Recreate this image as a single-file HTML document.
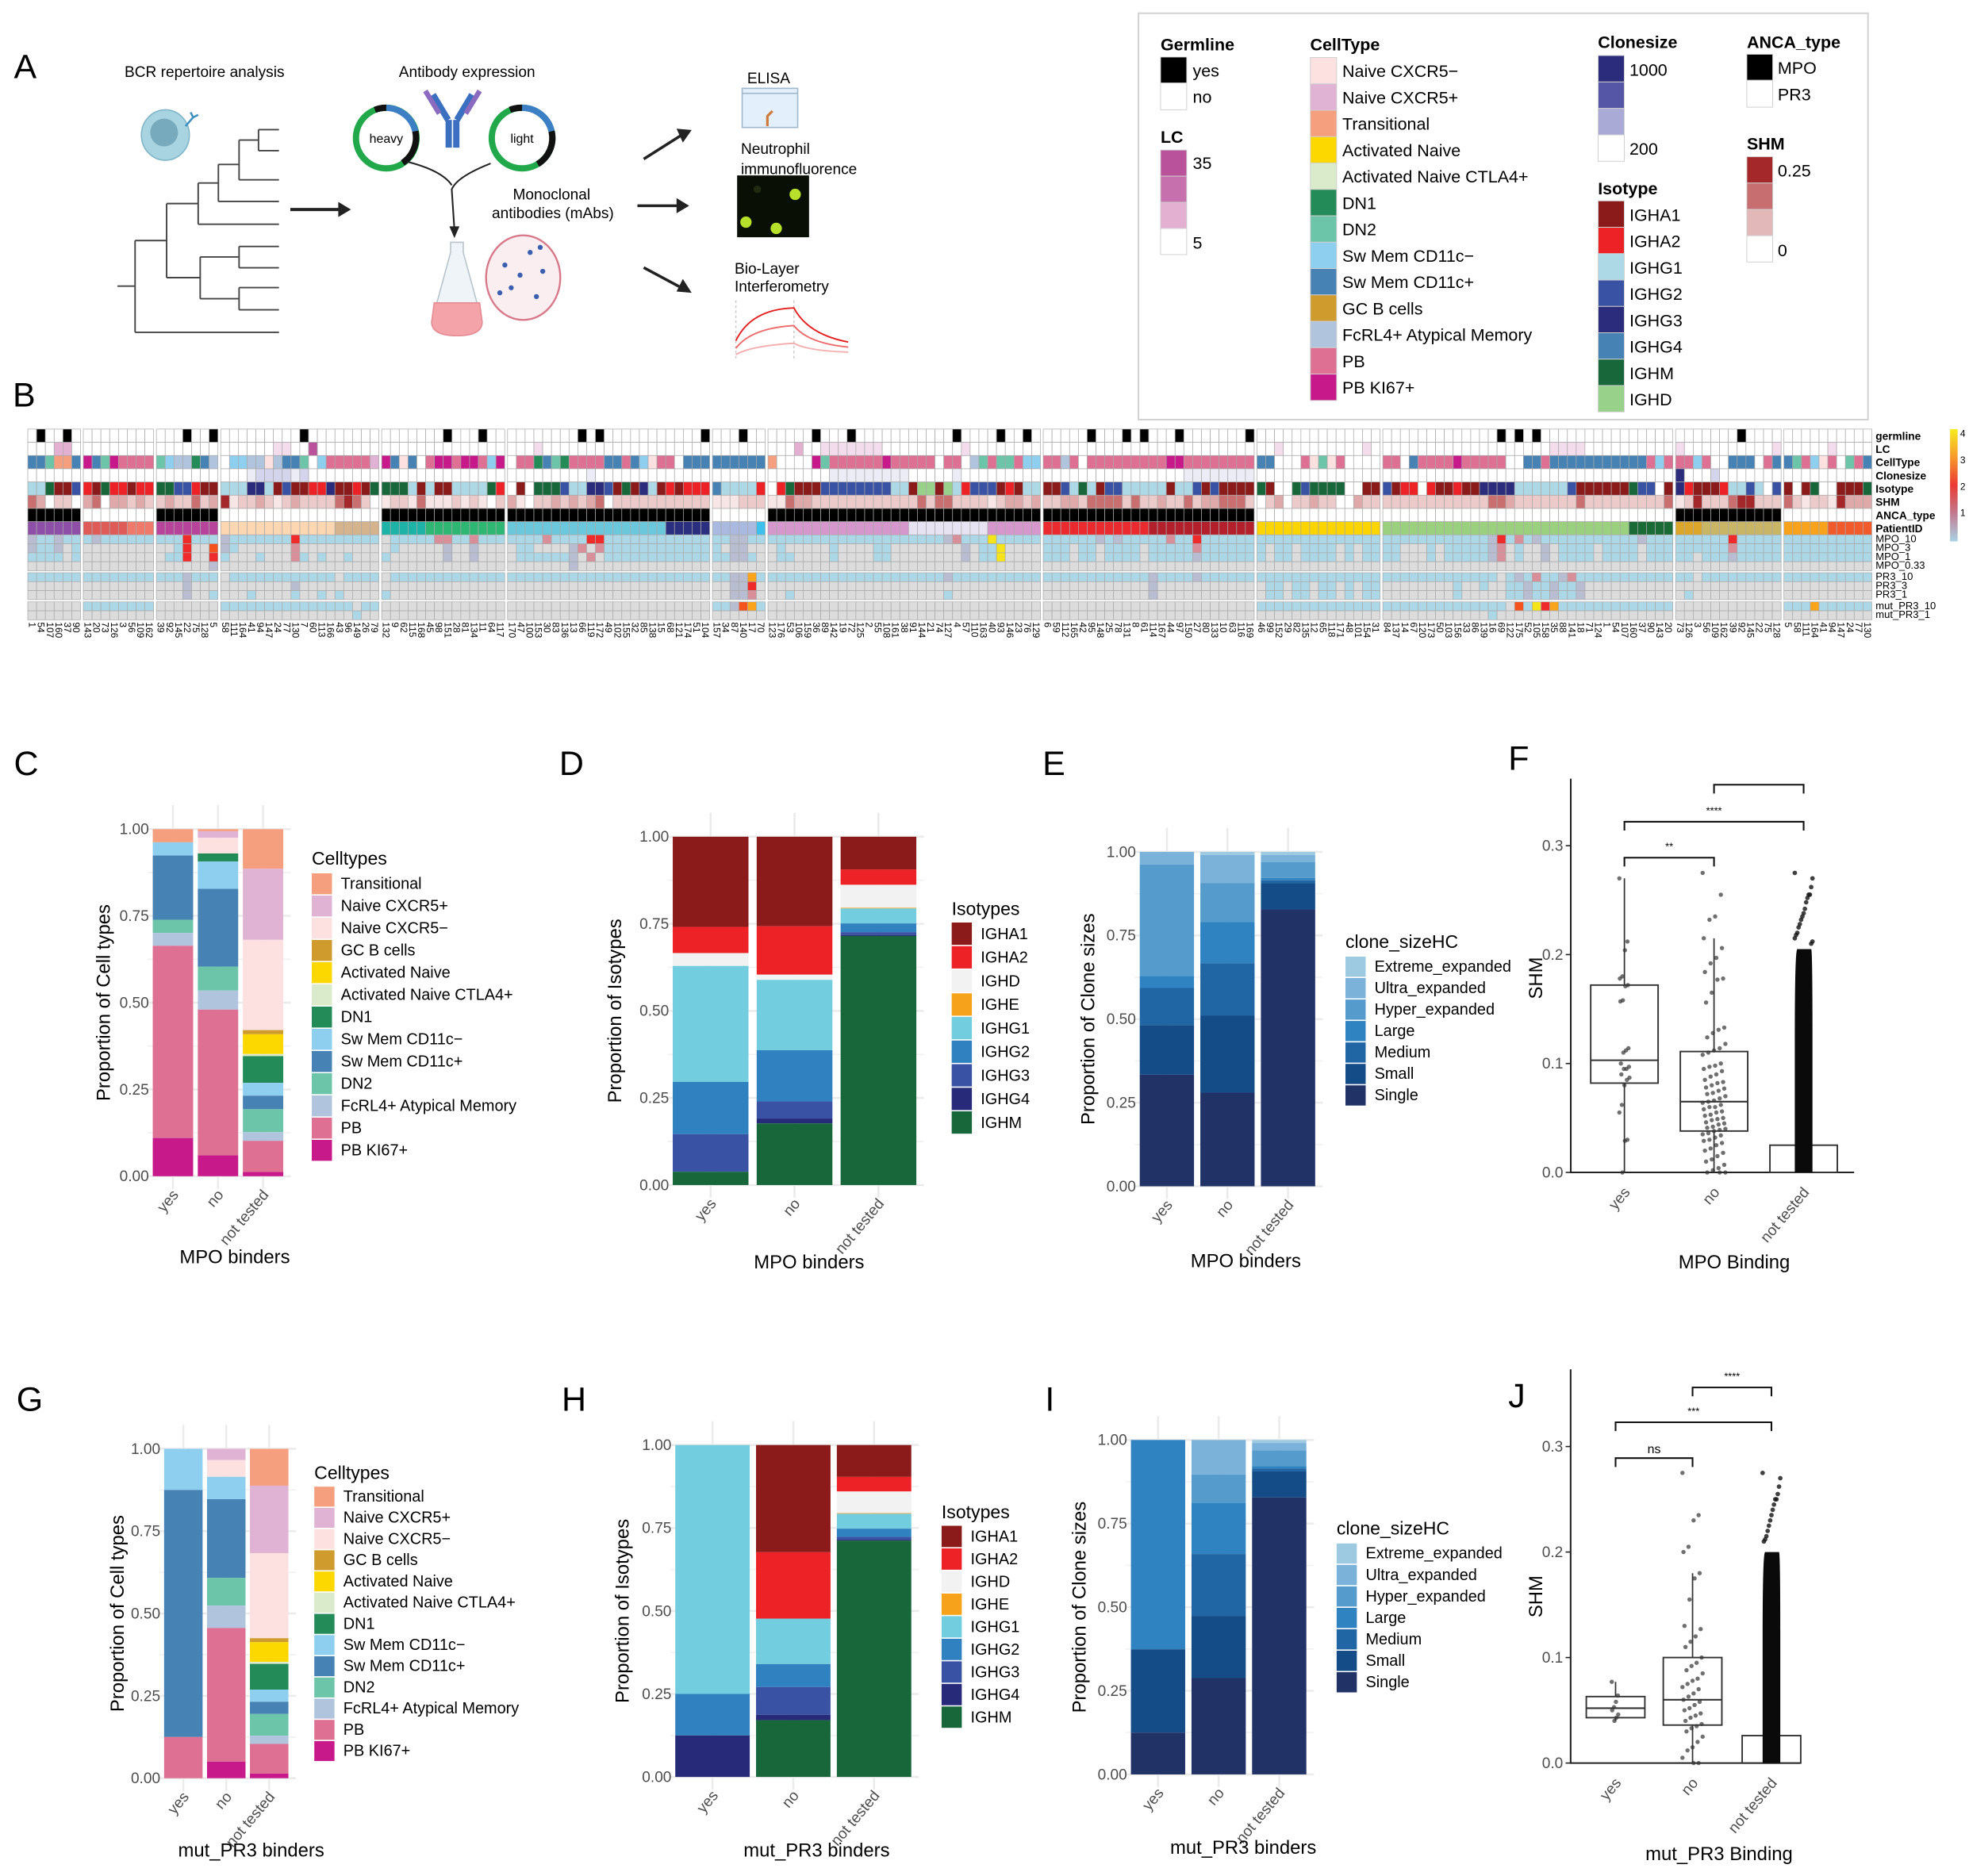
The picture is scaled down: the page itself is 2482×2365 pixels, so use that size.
<!DOCTYPE html>
<html><head><meta charset="utf-8">
<style>
html,body{margin:0;padding:0;background:#fff;}
svg{display:block;font-family:"Liberation Sans",Arial,sans-serif;}
</style></head>
<body>
<svg id="fig" xmlns="http://www.w3.org/2000/svg" viewBox="0 0 1560 1486.5" width="2482" height="2365">
<rect x="0" y="0" width="1560" height="1486.5" fill="#fff"/>
<!-- Panel A -->
<g>
<text x="11" y="62" font-size="27">A</text>
<text x="162" y="61" font-size="12" text-anchor="middle">BCR repertoire analysis</text>
<text x="370" y="61" font-size="12" text-anchor="middle">Antibody expression</text>
<g>
<ellipse cx="131" cy="107" rx="19" ry="20" fill="#a8d3e0" stroke="#7fb6c8"/>
<ellipse cx="130" cy="105" rx="11" ry="11" fill="#78aabd"/>
<path d="M147 100 L153 93 M153 93 L151 89 M153 93 L157 91" stroke="#3d8fc0" stroke-width="1.6" fill="none"/>
</g>
<g stroke="#444" stroke-width="1.2" fill="none">
<path d="M93 226.7 H107 M107 190.6 V263.3 M107 190.6 H132 M107 263.3 H221"/>
<path d="M132 161.3 V220 M132 161.3 H157 M132 220 H158.6"/>
<path d="M157 145 V177.7 M157 145 H173 M157 177.7 H221"/>
<path d="M173 130.3 V159.6 M173 130.3 H189.4 M173 159.6 H221"/>
<path d="M189.4 111 V142.5 M189.4 111 H204.8 M189.4 142.5 H221"/>
<path d="M204.8 102.7 V119.4 M204.8 102.7 H221 M204.8 119.4 H221"/>
<path d="M158.6 203.6 V236.7 M158.6 203.6 H189.4 M158.6 236.7 H189.4"/>
<path d="M189.4 195.3 V212.2 M189.4 195.3 H221 M189.4 212.2 H221"/>
<path d="M189.4 227.9 V245.5 M189.4 227.9 H221 M189.4 245.5 H221"/>
</g>
<g>
<line x1="230" y1="166" x2="270" y2="166" stroke="#222" stroke-width="2.5"/>
<polygon points="268,160 278,166 268,172" fill="#222"/>
</g>
<g>
<circle cx="306" cy="109.4" r="24" fill="none" stroke="#20a84a" stroke-width="5"/>
<path d="M306 85.4 A24 24 0 0 1 329 104" fill="none" stroke="#3d7fc4" stroke-width="5"/>
<path d="M329 104 A24 24 0 0 1 319 129" fill="none" stroke="#111" stroke-width="5"/>
<path d="M297 87 A24 24 0 0 1 306 85.4" fill="none" stroke="#111" stroke-width="5"/>
<text x="306" y="113" font-size="10" text-anchor="middle">heavy</text>
</g>
<g>
<circle cx="413.6" cy="109.4" r="24" fill="none" stroke="#20a84a" stroke-width="5"/>
<path d="M413.6 85.4 A24 24 0 0 1 437 104" fill="none" stroke="#3d7fc4" stroke-width="5"/>
<path d="M437 104 A24 24 0 0 1 426 130" fill="none" stroke="#111" stroke-width="5"/>
<path d="M404 87 A24 24 0 0 1 413.6 85.4" fill="none" stroke="#111" stroke-width="5"/>
<text x="413.6" y="113" font-size="10" text-anchor="middle">light</text>
</g>
<g>
<rect x="353" y="95" width="5" height="22" fill="#3b6fc0"/><rect x="359" y="95" width="5" height="22" fill="#3b6fc0"/>
<path d="M355 95 L343 75" stroke="#3b6fc0" stroke-width="5"/><path d="M362 95 L374 75" stroke="#3b6fc0" stroke-width="5"/>
<path d="M348 90 L337 72" stroke="#8a6bbf" stroke-width="4"/><path d="M369 90 L380 72" stroke="#8a6bbf" stroke-width="4"/>
</g>
<g stroke="#222" stroke-width="1.3" fill="none">
<path d="M322 128 Q350 135 357.9 146.7"/><path d="M388.7 129.5 Q362 140 357.9 150 L360 182"/>
<polygon points="357,180 360,187 363,180" fill="#222"/>
</g>
<text x="437" y="158" font-size="12" text-anchor="middle">Monoclonal</text>
<text x="438" y="173" font-size="12" text-anchor="middle">antibodies (mAbs)</text>
<g>
<path d="M357 192 H367 V200 L382 255 Q382 266 362 266 Q342 266 342 255 L357 200 Z" fill="#eef4f7" stroke="#b8c4cc"/>
<path d="M344 240 H380 L382 255 Q382 266 362 266 Q342 266 342 255 Z" fill="#f4a3a8" stroke="#e58c92"/>
<ellipse cx="414.5" cy="220" rx="29.4" ry="33.5" fill="#fbeef0" stroke="#d8798a" stroke-width="1.5"/>
<g fill="#3b5fb0"><circle cx="400" cy="210" r="2"/><circle cx="420" cy="200" r="2"/><circle cx="430" cy="215" r="2"/><circle cx="405" cy="228" r="2"/><circle cx="425" cy="235" r="2"/><circle cx="412" cy="218" r="2"/><circle cx="396" cy="232" r="2"/><circle cx="428" cy="196" r="2"/></g>
</g>
<g stroke="#222" stroke-width="2.2">
<line x1="510" y1="126" x2="540" y2="107"/><polygon points="536,102 548,103 541,113" fill="#222" stroke="none"/>
<line x1="505" y1="163" x2="538" y2="163"/><polygon points="536,157 546,163 536,169" fill="#222" stroke="none"/>
<line x1="510" y1="212" x2="538" y2="227"/><polygon points="541,221 548,232 536,231" fill="#222" stroke="none"/>
</g>
<text x="592" y="66" font-size="12">ELISA</text>
<g>
<rect x="588" y="70" width="44" height="31" fill="#e3f0fb" stroke="#9fb8cc"/><line x1="588" y1="74" x2="632" y2="74" stroke="#9fb8cc"/>
<path d="M608 100 V92 L612 88" stroke="#d07a3a" stroke-width="2" fill="none"/>
</g>
<text x="587" y="122" font-size="12">Neutrophil</text>
<text x="587" y="138" font-size="12">immunofluorence</text>
<g>
<rect x="584" y="139" width="57" height="49" fill="#0a0f05"/>
<circle cx="630" cy="154" r="4.5" fill="#b7e02a"/><circle cx="591" cy="176" r="4.5" fill="#b7e02a"/><circle cx="615" cy="181" r="4.5" fill="#b7e02a"/><circle cx="600" cy="150" r="3" fill="#1f2a10"/>
</g>
<text x="582" y="217" font-size="12">Bio-Layer</text>
<text x="582" y="231" font-size="12">Interferometry</text>
<g fill="none">
<line x1="583" y1="238" x2="583" y2="285" stroke="#ccc" stroke-dasharray="2,2"/>
<line x1="629" y1="238" x2="629" y2="285" stroke="#ccc" stroke-dasharray="2,2"/>
<path d="M583 270 Q595 245 629 244 Q640 265 672 271" stroke="#e32020" stroke-width="1.2"/>
<path d="M583 276 Q595 260 629 258 Q640 272 672 275" stroke="#ee6a6a" stroke-width="1.2"/>
<path d="M583 281 Q595 274 629 272 Q640 278 672 279" stroke="#f4b0b0" stroke-width="1.2"/>
</g>
</g>
<!-- Legend box -->
<g id="annot-legend">
<rect x="902" y="10.5" width="578" height="322" fill="none" stroke="#d0d0d0" stroke-width="1.2"/>
</g>
<text x="10" y="322" font-size="27">B</text>
<g id="heatmap"></g>
<g id="panels"></g>
</svg>
<script>
// ---------------- Heatmap data ----------------
const hmGroups = [6,8,7,18,14,23,6,31,24,14,33,12,10];
const hmAnca = [1,0,1,0,1,1,0,1,1,0,0,1,0];
const hmGermline = "010010|00000000|0001001|000000000100000000|00000001000100|00000000101000000000001|000100|0000010001000000000001000010010|000001000101000100000001|00000000000000|000000000000010101000000000000000|000000010000|0000000000";
const hmLC = "000220|00000000|0000000|000000110030000000|00000000000000|00010000000000000000000|000000|0002001111111000000000100000000|000000000000000000000000|00100000000010|000000000000000000011110000000000|100000000001|0000010000";
const hmCellType = "SSettS|kSekpppp|esffdSf|wssffafSSewspppppb|kSaSwpkkpkkpsk|wppdSedppppSSpSsappwSSS|SSSSSS|twwwwkeppppppkpppppwppwfepeepss|ppfpwpppppppppkkpppppppp|SSwwwpaeapwwww|ppwSppppkpppppwwSSpSSSSSSSSSSSpsp|ppspwwSSSwpS|SepsapwepS";
const hmClone = "000000|00000000|0000000|000122221200000000|00000000000000|00000000010000000000000|000000|0000000111111111000001000000000|000000000000000011111111|00000000000000|000000000000000000000000000000000|900020000000|0000000000";
const hmIsotype = "11MAA2|BAMBBABB|MM22BAA|111331A2AABB3AABAM|MMM1A1AA1111MB|wAwMMM211332AMA31ABABBB|41111B|wBMAAA2222222211ADDAD1B222ABA11|AA21M1A2211111A112A2AAAA|MAwwM2MMMMwwAA|2ABBwBAABAA33331111112AAAAAAM22wA|3BAAAB1121w2|AwAMwwAAAM";
const hmSHM = "430220|34033232|2322423|512232123222245420|12214111212102|31022323234022222222222|111222|1143322222222222242442222123323|223324444242232242334442|02302232200322|222222222222443222222242222222224|125222455222|4212215333";
const hmPatient = "aaaaaa|bbbbbxxx|ccccccc|dddddddddddddeeeee|fffffggggggggg|hhhhhhhhhhhhhhhhhhiiiii|jjjjjk|llllllllllllllllmmmmmmmmmllllll|nnnnnnnnnnnnoooooooooooo|pppppppppppppp|qqqqqqqqqqqqqqqqqqqqqqqqqqqqrrrrr|sssttttttttt|uuuuuvvvvv";
const hmMPO10 = "811811|18111111|1114111|811111114111111111|01111133113111|11113111144111111111111|118811|1111111111111111111183111711111|111111818111113114111111|11111111111111|111111111111841318111111111118111|111111411111|1111111111";
const hmMPO3 = "811801|00000000|0014005|810000003000000000|01000008008000|01100008303111111111111|108800|0100000100001100000000801170000|111011011110111113111111|10110111101011|110001011111830100801111011110111|111111311111|1111111111";
const hmMPO1 = "111101|00000000|0114004|100010003101001000|10000008008000|01111118030111111111111|118810|0110000100001100000000801170000|111011011110111118111111|10110111101011|110001011111830100801111011110111|110111811111|1111111111";
const hmMPO033 = "0|0|0000008|0|0|00000008|0|0|0|0|0|0|0";
const hmPR310 = "111111|11111111|1118111|011111111111101111|01111111111111|11111111111111111111111|118861|1111111111111111111181111111111|111111111111811118111111|11111111111111|111111111111101813118311111111111|110111111111|1111111111";
const hmPR33 = "0|0|0008000|000000008000000000|0|0|008840|0|000000000000800000000000|01101101101011|000000001001001181181180000000000|0|0";
const hmPR31 = "0|0|0008001|000100001001010000|10000000000000|0|008830|0010000000000000000010000000000|000000000000800000000000|01101101101011|000000001000001181181180000000000|010000000000|0";
const hmMut10 = "0|11111111|0|111111111111111011|0|0|118561|0|0|11111111111111|111111111111110517461111111111111|0|1116111111";
const hmMut1 = "0|0|0|000000000000000100|0|0|0|0|0|0|000000000000100000000000000000000|0|0";
const hmRowLabels = ["germline","LC","CellType","Clonesize","Isotype","SHM","ANCA_type","PatientID","MPO_10","MPO_3","MPO_1","MPO_0.33","PR3_10","PR3_3","PR3_1","mut_PR3_10","mut_PR3_1"];

// ---------------- Bar chart data ----------------
const cellTypeNames = ["Transitional","Naive CXCR5+","Naive CXCR5−","GC B cells","Activated Naive","Activated Naive CTLA4+","DN1","Sw Mem CD11c−","Sw Mem CD11c+","DN2","FcRL4+ Atypical Memory","PB","PB KI67+"];
const barCategories = ["yes","no","not tested"];
const C_yes = [0.038,0,0,0,0,0,0,0.038,0.185,0.038,0.037,0.554,0.11];
const C_no = [0.006,0.019,0.045,0,0,0,0.023,0.079,0.224,0.069,0.055,0.42,0.06];
const C_nt = [0.114,0.205,0.26,0.012,0.057,0.006,0.077,0.037,0.039,0.066,0.025,0.09,0.012];
const G_yes = [0,0,0,0,0,0,0,0.125,0.75,0,0,0.125,0];
const G_no = [0,0.034,0.051,0,0,0,0,0.068,0.239,0.084,0.068,0.406,0.05];
const G_nt = [0.112,0.205,0.258,0.012,0.06,0.006,0.078,0.037,0.037,0.066,0.025,0.09,0.014];
const isotypeNames = ["IGHA1","IGHA2","IGHD","IGHE","IGHG1","IGHG2","IGHG3","IGHG4","IGHM"];
const D_yes = [0.259,0.075,0.037,0,0.333,0.15,0.108,0,0.038];
const D_no = [0.257,0.139,0.015,0,0.202,0.147,0.049,0.014,0.177];
const D_nt = [0.094,0.044,0.066,0.002,0.043,0.025,0.008,0.003,0.715];
const H_yes = [0,0,0,0,0.75,0.125,0,0.125,0];
const H_no = [0.323,0.2,0,0,0.137,0.069,0.084,0.016,0.171];
const H_nt = [0.096,0.044,0.065,0.002,0.045,0.025,0.008,0.003,0.712];
const cloneNames = ["Extreme_expanded","Ultra_expanded","Hyper_expanded","Large","Medium","Small","Single"];
const E_yes = [0,0.038,0.333,0.036,0.111,0.148,0.334];
const E_no = [0.009,0.084,0.117,0.123,0.157,0.23,0.28];
const E_nt = [0.009,0.022,0.047,0.007,0.009,0.078,0.828];
const I_yes = [0,0,0,0.626,0,0.249,0.125];
const I_no = [0,0.103,0.086,0.152,0.185,0.186,0.288];
const I_nt = [0.009,0.022,0.047,0.007,0.009,0.078,0.828];
const propTicks = [0,0.25,0.5,0.75,1];
const propTickLabels = ["0.00","0.25","0.50","0.75","1.00"];

// ---------------- Box plot data (min,q1,median,q3,max) ----------------
const F_stats_yes = [0,0.082,0.103,0.172,0.27];
const F_stats_no = [0,0.038,0.065,0.111,0.215];
const F_stats_nt = [0,0,0,0.025,0.025];
const F_pts_yes = [0.27,0.212,0.204,0.18,0.178,0.172,0.171,0.158,0.157,0.114,0.112,0.11,0.1,0.097,0.095,0.095,0.09,0.087,0.085,0.08,0.062,0.055,0.03,0.029,0];
const F_pts_no = [0.275,0.255,0.235,0.232,0.215,0.206,0.197,0.192,0.184,0.178,0.177,0.165,0.156,0.133,0.131,0.128,0.124,0.118,0.114,0.112,0.11,0.108,0.1,0.098,0.097,0.095,0.093,0.09,0.088,0.085,0.083,0.082,0.08,0.078,0.077,0.075,0.073,0.072,0.07,0.068,0.066,0.065,0.064,0.062,0.06,0.06,0.058,0.056,0.055,0.053,0.052,0.05,0.049,0.048,0.046,0.045,0.044,0.042,0.041,0.04,0.039,0.038,0.036,0.035,0.034,0.032,0.03,0.029,0.027,0.025,0.022,0.02,0.018,0.015,0.012,0.01,0.007,0.004,0.002,0,0,0];
const F_pts_nt_sparse = [0.275,0.27,0.262,0.255,0.255,0.252,0.248,0.242,0.238,0.235,0.232,0.228,0.225,0.22,0.218,0.215,0.212,0.21];
const F_nt_dense_top = 0.205;
const J_stats_yes = [0.04,0.043,0.052,0.063,0.077];
const J_stats_no = [0,0.036,0.06,0.1,0.18];
const J_stats_nt = [0,0,0,0.026,0.026];
const J_pts_yes = [0.077,0.064,0.058,0.053,0.05,0.046,0.043,0.04];
const J_pts_no = [0.275,0.235,0.23,0.205,0.2,0.18,0.175,0.155,0.13,0.127,0.12,0.115,0.11,0.1,0.095,0.092,0.088,0.085,0.08,0.078,0.075,0.072,0.07,0.066,0.063,0.06,0.058,0.055,0.052,0.05,0.047,0.045,0.043,0.04,0.037,0.035,0.033,0.03,0.025,0.02,0.015,0.012,0.005,0,0];
const J_pts_nt_sparse = [0.275,0.27,0.262,0.255,0.25,0.25,0.245,0.24,0.235,0.23,0.225,0.22,0.215,0.212,0.21];
const J_nt_dense_top = 0.2;
const shmTicks = [0,0.1,0.2,0.3];
const shmTickLabels = ["0.0","0.1","0.2","0.3"];

// ---------------- helpers ----------------
const NS = "http://www.w3.org/2000/svg";
const svg = document.getElementById('fig');
function mk(tag, attrs, parent) {
  const e = document.createElementNS(NS, tag);
  for (const k in attrs) e.setAttribute(k, attrs[k]);
  (parent || svg).appendChild(e);
  return e;
}
function tx(parent, x, y, s, size, extra) {
  const e = mk('text', Object.assign({x: x, y: y, 'font-size': size}, extra || {}), parent);
  e.textContent = s;
  return e;
}

const ctColor = {a:"#fde0e0",b:"#e0b3d5",t:"#f59f7e",n:"#fcd800",c:"#d9ebcb",d:"#238b57",e:"#6cc5a8",s:"#8ecff0",S:"#4682b4",g:"#cf9b2d",f:"#b0c4de",p:"#dd7093",k:"#c8198a",w:"#ffffff"};
const ctLegendOrder = ["a","b","t","n","c","d","e","s","S","g","f","p","k"];
const ctLegendNames = ["Naive CXCR5−","Naive CXCR5+","Transitional","Activated Naive","Activated Naive CTLA4+","DN1","DN2","Sw Mem CD11c−","Sw Mem CD11c+","GC B cells","FcRL4+ Atypical Memory","PB","PB KI67+"];
const isoColor = {A:"#8b1a1a",B:"#ec2227",1:"#add8e6",2:"#3a52a4",3:"#2b2d7c",4:"#4682b4",M:"#17673a",D:"#98d18a",w:"#ffffff"};
const isoLegendOrder = ["A","B","1","2","3","4","M","D"];
const isoLegendNames = ["IGHA1","IGHA2","IGHG1","IGHG2","IGHG3","IGHG4","IGHM","IGHD"];
const lcColor = {0:"#ffffff",1:"#f3dcec",2:"#e3b0d2",3:"#b9519b"};
const cloneColor = {0:"#ffffff",1:"#ececf6",2:"#d4d4ec",9:"#2b2d7c"};
const shmColor = {0:"#ffffff",1:"#f8e6e6",2:"#eccaca",3:"#e0a9a9",4:"#c96f70",5:"#a4282a"};
const patColor = {a:"#8d4fa8",b:"#de5b57",x:"#ef7a6c",c:"#b7439b",d:"#fdd6b2",e:"#d5b38c",f:"#1db3a6",g:"#2eb673",h:"#6bc8dc",i:"#2b2f7f",j:"#a9b9e0",k:"#3ec0ec",l:"#d697cd",m:"#e8e3f2",n:"#ea2a2e",o:"#b3202c",p:"#fcd500",q:"#9bd07f",r:"#1a6b35",s:"#dba62a",t:"#c8b565",u:"#f9a21b",v:"#f15a2b"};
const assayColor = {0:"#dcdcdc",1:"#acd7e6",8:"#b9bdd2",3:"#d98f99",4:"#ee2a2a",5:"#f4531e",6:"#f9a41b",7:"#f6e41b"};

// ---------------- Annotation legend ----------------
(function(){
  const g = document.getElementById('annot-legend');
  function title(x,y,s,name){ const t=tx(g,x,y,s,13.5,{'font-weight':'bold'});   }
  function sw(x,y,w,h,c,name){ const r=mk('rect',{x:x,y:y,width:w,height:h,fill:c,stroke:'#cfcfcf','stroke-width':0.6},g);   }
  function lab(x,y,s,name){ const t=tx(g,x,y,s,13.5);   }
  title(919.5,40,"Germline","germline-legend-title");
  sw(919.5,45.2,20.7,20.6,"#000","germline-yes-swatch"); lab(945,60.5,"yes","germline-yes-label");
  sw(919.5,65.8,20.7,21.2,"#fff","germline-no-swatch"); lab(945,81.5,"no","germline-no-label");
  title(919.5,113,"LC","lc-legend-title");
  ["#b9519b","#c670ad","#e3b0d2","#ffffff"].forEach((c,i)=>{ sw(919.5,118.9+i*20.7,20.7,20.7,c,"lc-gradient-step"); });
  lab(945,134,"35","lc-max-label"); lab(945,197,"5","lc-min-label");
  title(1038,40,"CellType","celltype-legend-title");
  ctLegendOrder.forEach((k,i)=>{ sw(1038.2,45.6+i*20.9,20.8,20.9,ctColor[k],"celltype-legend-swatch"); lab(1063.5,61+i*20.9,ctLegendNames[i],"celltype-legend-label"); });
  title(1266,38,"Clonesize","clonesize-legend-title");
  ["#2b2d7c","#5557a6","#aaaad6","#ffffff"].forEach((c,i)=>{ sw(1266.2,44+i*20.95,20.7,20.95,c,"clonesize-gradient-step"); });
  lab(1291,60,"1000","clonesize-max-label"); lab(1291,122.5,"200","clonesize-min-label");
  title(1266,154,"Isotype","isotype-legend-title");
  isoLegendOrder.forEach((k,i)=>{ sw(1266.2,159.2+i*20.9,20.7,20.9,isoColor[k],"isotype-legend-swatch"); lab(1291,175+i*20.9,isoLegendNames[i],"isotype-legend-label"); });
  title(1384,38,"ANCA_type","anca-legend-title");
  sw(1384,43,20.5,20.6,"#000","anca-mpo-swatch"); lab(1408.5,58.5,"MPO","anca-mpo-label");
  sw(1384,63.6,20.5,21.3,"#fff","anca-pr3-swatch"); lab(1408.5,79.5,"PR3","anca-pr3-label");
  title(1384,118.5,"SHM","shm-legend-title");
  ["#a4282a","#c76f70","#e3b8b8","#ffffff"].forEach((c,i)=>{ sw(1384,124.2+i*20.85,20.5,20.85,c,"shm-gradient-step"); });
  lab(1408.5,140,"0.25","shm-max-label"); lab(1408.5,203,"0","shm-min-label");
})();

// ---------------- Heatmap ----------------
(function(){
  const g = document.getElementById('heatmap');
  const left = 22, right = 1483, gap = 2.2;
  const nCols = hmGroups.reduce((a,b)=>a+b,0);
  const cw = (right-left-gap*(hmGroups.length-1))/nCols;
  const annotH = 10.48, assayH = 7.1;
  const rowDefs = [
    {s:hmGermline, y:340, h:annotH, col:(c)=>c==='1'?'#000':'#fff'},
    {s:hmLC, y:340+annotH, h:annotH, col:(c)=>lcColor[c]||'#fff'},
    {s:hmCellType, y:340+2*annotH, h:annotH, col:(c)=>ctColor[c]||'#fff'},
    {s:hmClone, y:340+3*annotH, h:annotH, col:(c)=>cloneColor[c]||'#fff'},
    {s:hmIsotype, y:340+4*annotH, h:annotH, col:(c)=>isoColor[c]||'#fff'},
    {s:hmSHM, y:340+5*annotH, h:annotH, col:(c)=>shmColor[c]||'#fff'},
    {s:null, anca:true, y:340+6*annotH, h:annotH},
    {s:hmPatient, y:340+7*annotH, h:annotH, col:(c)=>patColor[c]||'#fff'},
    {s:hmMPO10, y:423.8, h:assayH, col:(c)=>assayColor[c]||'#dcdcdc'},
    {s:hmMPO3, y:423.8+assayH, h:assayH, col:(c)=>assayColor[c]||'#dcdcdc'},
    {s:hmMPO1, y:423.8+2*assayH, h:assayH, col:(c)=>assayColor[c]||'#dcdcdc'},
    {s:hmMPO033, y:423.8+3*assayH, h:assayH, col:(c)=>assayColor[c]||'#dcdcdc'},
    {s:hmPR310, y:453.8, h:assayH, col:(c)=>assayColor[c]||'#dcdcdc'},
    {s:hmPR33, y:453.8+assayH, h:assayH, col:(c)=>assayColor[c]||'#dcdcdc'},
    {s:hmPR31, y:453.8+2*assayH, h:assayH, col:(c)=>assayColor[c]||'#dcdcdc'},
    {s:hmMut10, y:476.9, h:assayH, col:(c)=>assayColor[c]||'#dcdcdc'},
    {s:hmMut1, y:476.9+assayH, h:assayH, col:(c)=>assayColor[c]||'#dcdcdc'}
  ];
  let colIdx = 0;
  let x = left;
  hmGroups.forEach((n,gi)=>{
    rowDefs.forEach((rd,ri)=>{
      let str = rd.anca ? (hmAnca[gi] ? '1'.repeat(n) : '0'.repeat(n)) : (rd.s.split('|')[gi] || '');
      for (let c=0;c<n;c++){
        const ch = str[c] || '0';
        const fill = rd.anca ? (ch==='1'?'#000':'#fff') : rd.col(ch);
        const r = mk('rect',{x:(x+c*cw).toFixed(2), y:rd.y.toFixed(2), width:cw.toFixed(2), height:rd.h.toFixed(2), fill:fill, stroke:'#a9a9a9','stroke-width':0.45}, g);
        
        
      }
    });
    for (let c=0;c<n;c++){
      const lx = x + c*cw + cw/2 - 2.5;
      const t = tx(g, 0, 0, String(1 + ((colIdx*53) % 176)), 7.5, {transform:'translate('+lx.toFixed(2)+',493) rotate(90)'});
      
      
      colIdx++;
    }
    x += n*cw + gap;
  });
  hmRowLabels.forEach((s,i)=>{
    const rd = rowDefs[i];
    const bold = i < 8;
    const t = tx(g, 1486, rd.y + rd.h*0.8, s, bold ? 8.6 : 8.2, bold ? {'font-weight':'bold'} : {});
    
    
  });
  const defs = mk('defs',{},g);
  const lg = mk('linearGradient',{id:'hmgrad',x1:0,y1:0,x2:0,y2:1},defs);
  [["0","#f7ec1f"],["0.25","#f79a2b"],["0.5","#ea3a34"],["0.75","#c27a8f"],["1","#a9d3e5"]].forEach(([o,c])=>mk('stop',{offset:o,'stop-color':c},lg));
  const cb = mk('rect',{x:1545,y:340,width:6,height:89,fill:'url(#hmgrad)'},g);
  
  
  ["4","3","2","1"].forEach((s,i)=>{ const t=tx(g,1553,346+i*21,s,7.5);   });
})();

// ---------------- Stacked bars ----------------
const ctColors = ["#f59f7e","#e0b3d5","#fde0e0","#cf9b2d","#fcd800","#d9ebcb","#238b57","#8ecff0","#4682b4","#6cc5a8","#b0c4de","#dd7093","#c8198a"];
const isoColors = ["#8b1a1a","#ec2227","#f2f2f2","#f7a21b","#72cddf","#2f81bf","#3a52a4","#262a78","#17673a"];
const cloneColors = ["#9ecae1","#7bb2d9","#559ccc","#2e83c0","#2166a4","#144c87","#213366"];
const panelsG = document.getElementById('panels');

function stackedPanel(cfg){
  const g = mk('g',{},panelsG);
  
  
  const yScale = v => cfg.y0 - v*(cfg.y0-cfg.y1);
  const xCenter = i => cfg.left + i*cfg.step + cfg.w/2;
  const gridRight = cfg.left + 2*cfg.step + cfg.w + 6;
  [0.125,0.375,0.625,0.875].forEach(v=>{
    const l = mk('line',{x1:cfg.left-4,x2:gridRight,y1:yScale(v),y2:yScale(v),stroke:'#f1f1f1','stroke-width':1},g);
    
    
  });
  propTicks.forEach(v=>{
    const l = mk('line',{x1:cfg.left-4,x2:gridRight,y1:yScale(v),y2:yScale(v),stroke:'#ebebeb','stroke-width':1.6},g);
    
    
  });
  barCategories.forEach((c,i)=>{
    const l = mk('line',{x1:xCenter(i),x2:xCenter(i),y1:cfg.y1-19,y2:cfg.y0+10,stroke:'#ebebeb','stroke-width':1.6},g);
    
    
  });
  cfg.series.forEach((vals,i)=>{
    let top = 0;
    vals.forEach((v,k)=>{
      if (v<=0) return;
      const yTop = yScale(1-top);
      const yBot = yScale(1-top-v);
      const r = mk('rect',{x:cfg.left+i*cfg.step,y:yTop.toFixed(2),width:cfg.w,height:(yBot-yTop).toFixed(2),fill:cfg.colors[k]},g);
      
      
      top += v;
    });
  });
  propTicks.forEach((v,i)=>{
    const t = tx(g, cfg.left-3, yScale(v)+4, propTickLabels[i], 12, {'text-anchor':'end', fill:'#4d4d4d'});
    
    
  });
  barCategories.forEach((c,i)=>{
    const t = tx(g, 0, 0, c, 12, {'text-anchor':'end', fill:'#4d4d4d', transform:'translate('+(xCenter(i)+5)+','+(cfg.y0+15)+') rotate(-50)'});
    
    
  });
  const yt = tx(g, 0, 0, cfg.ytitle, 15, {'text-anchor':'middle', transform:'translate('+cfg.ytx+','+((cfg.y0+cfg.y1)/2)+') rotate(-90)'});
  
  
  const xt = tx(g, cfg.xtx, cfg.xty, cfg.xtitle, 15, {'text-anchor':'middle'});
  
  
  const lt = tx(g, cfg.lx, cfg.lty, cfg.ltitle, 14.5);
  
  
  cfg.names.forEach((n,k)=>{
    const r = mk('rect',{x:cfg.lx,y:cfg.ly+k*cfg.lstep,width:16,height:cfg.lstep-1,fill:cfg.colors[k]},g);
    
    
    const t = tx(g, cfg.lx+23, cfg.ly+k*cfg.lstep+cfg.lstep*0.7, n, 12.5);
    
    
  });
  const pl = tx(g, cfg.px, cfg.py, cfg.plabel, 27);
  
  
}

stackedPanel({name:'panel-c-celltype-mpo',left:121,step:35.7,w:32,y0:932,y1:657,series:[C_yes,C_no,C_nt],colors:ctColors,names:cellTypeNames,
  ytitle:'Proportion of Cell types',ytx:87,xtitle:'MPO binders',xtx:186,xty:1001,ltitle:'Celltypes',lx:247,lty:685,ly:692,lstep:17.6,plabel:'C',px:11,py:614});
stackedPanel({name:'panel-d-isotype-mpo',left:533,step:66.5,w:60,y0:939,y1:663,series:[D_yes,D_no,D_nt],colors:isoColors,names:isotypeNames,
  ytitle:'Proportion of Isotypes',ytx:492,xtitle:'MPO binders',xtx:641,xty:1005,ltitle:'Isotypes',lx:754,lty:725,ly:731,lstep:18.7,plabel:'D',px:443,py:614});
stackedPanel({name:'panel-e-clonesize-mpo',left:903,step:48,w:43,y0:940,y1:675,series:[E_yes,E_no,E_nt],colors:cloneColors,names:cloneNames,
  ytitle:'Proportion of Clone sizes',ytx:867,xtitle:'MPO binders',xtx:987,xty:1004,ltitle:'clone_sizeHC',lx:1066,lty:751,ly:758,lstep:17,plabel:'E',px:826,py:614});
stackedPanel({name:'panel-g-celltype-mutpr3',left:130,step:34,w:30.5,y0:1409,y1:1148,series:[G_yes,G_no,G_nt],colors:ctColors,names:cellTypeNames,
  ytitle:'Proportion of Cell types',ytx:98,xtitle:'mut_PR3 binders',xtx:199,xty:1471,ltitle:'Celltypes',lx:249,lty:1172,ly:1178,lstep:16.8,plabel:'G',px:13,py:1118});
stackedPanel({name:'panel-h-isotype-mutpr3',left:535,step:64,w:59,y0:1408,y1:1145,series:[H_yes,H_no,H_nt],colors:isoColors,names:isotypeNames,
  ytitle:'Proportion of Isotypes',ytx:498,xtitle:'mut_PR3 binders',xtx:647,xty:1471,ltitle:'Isotypes',lx:746,lty:1203,ly:1209,lstep:17.9,plabel:'H',px:445,py:1118});
stackedPanel({name:'panel-i-clonesize-mutpr3',left:896,step:48,w:43,y0:1406,y1:1141,series:[I_yes,I_no,I_nt],colors:cloneColors,names:cloneNames,
  ytitle:'Proportion of Clone sizes',ytx:860,xtitle:'mut_PR3 binders',xtx:985,xty:1469,ltitle:'clone_sizeHC',lx:1059,lty:1216,ly:1223,lstep:17,plabel:'I',px:828,py:1118});

// ---------------- Box plots ----------------
function boxPanel(cfg){
  const g = mk('g',{},panelsG);
  
  
  const yS = v => cfg.y0 - v*cfg.per;
  const xC = i => cfg.xs[i];
  const ax = mk('path',{d:'M'+cfg.axL+' '+cfg.axT+' V'+cfg.y0+' H'+cfg.axR,stroke:'#222','stroke-width':1.3,fill:'none'},g);
  
  
  shmTicks.forEach((v,i)=>{
    const tl = mk('line',{x1:cfg.axL-4,x2:cfg.axL,y1:yS(v),y2:yS(v),stroke:'#222','stroke-width':1},g);
    
    
    const t = tx(g, cfg.axL-6, yS(v)+4, shmTickLabels[i], 12, {'text-anchor':'end',fill:'#4d4d4d'});
    
    
  });
  cfg.stats.forEach((s,i)=>{
    const hw = cfg.hw;
    const wl = mk('line',{x1:xC(i),x2:xC(i),y1:yS(s[0]),y2:yS(s[4]),stroke:'#333','stroke-width':1.1},g);
    
    
    const b = mk('rect',{x:xC(i)-hw,y:yS(s[3]),width:hw*2,height:Math.max(0.5,yS(s[1])-yS(s[3])),fill:'#fff',stroke:'#333','stroke-width':1.2},g);
    
    
    const m = mk('line',{x1:xC(i)-hw,x2:xC(i)+hw,y1:yS(s[2]),y2:yS(s[2]),stroke:'#333','stroke-width':1.3},g);
    
    
  });
  [cfg.ptsYes, cfg.ptsNo].forEach((pts,ci)=>{
    pts.forEach((v,j)=>{
      const off = (((j*37)%21)-10) * cfg.jit[ci]/10;
      const c = mk('circle',{cx:xC(ci)+off,cy:yS(v),r:1.7,fill:'#333','fill-opacity':0.7},g);
      
      
    });
  });
  const xn = xC(2);
  const dense = mk('path',{d:'M'+(xn-7)+' '+cfg.y0+' V'+yS(cfg.denseTop*0.6)+' Q'+(xn-7)+' '+yS(cfg.denseTop)+' '+(xn-5)+' '+yS(cfg.denseTop)+' H'+(xn+6)+' Q'+(xn+7)+' '+yS(cfg.denseTop)+' '+(xn+7)+' '+yS(cfg.denseTop*0.6)+' V'+cfg.y0+' Z',fill:'#0a0a0a'},g);
  
  
  cfg.ptsNt.forEach((v,j)=>{
    const off = (((j*29)%15)-7);
    const c = mk('circle',{cx:xn+off,cy:yS(v),r:1.8,fill:'#111','fill-opacity':0.8},g);
    
    
  });
  cfg.brackets.forEach(br=>{
    const y = yS(br.v);
    const p = mk('path',{d:'M'+xC(br.a)+' '+(y+7)+' V'+y+' H'+xC(br.b)+' V'+(y+7),stroke:'#111','stroke-width':1.3,fill:'none'},g);
    
    
    if (br.label){
      const t = tx(g,(xC(br.a)+xC(br.b))/2, y-(br.label==='ns'?4:6), br.label, br.label==='ns'?10:8, {'text-anchor':'middle'});
      
      
    }
  });
  barCategories.forEach((c,i)=>{
    const t = tx(g,0,0,c,12,{'text-anchor':'end',fill:'#4d4d4d',transform:'translate('+(xC(i)+5)+','+(cfg.y0+16)+') rotate(-50)'});
    
    
  });
  const yt = tx(g,0,0,'SHM',15,{'text-anchor':'middle',transform:'translate('+cfg.ytx+','+cfg.yty+') rotate(-90)'});
  
  
  const xt = tx(g,cfg.xtx,cfg.xty,cfg.xtitle,15,{'text-anchor':'middle'});
  
  
  const pl = tx(g,cfg.px,cfg.py,cfg.plabel,27);
  
  
}

boxPanel({name:'panel-f-shm-mpo',y0:929,per:863,axL:1244.5,axT:617,axR:1469,xs:[1287,1358,1429],hw:26.7,
  stats:[F_stats_yes,F_stats_no,F_stats_nt],ptsYes:F_pts_yes,ptsNo:F_pts_no,ptsNt:F_pts_nt_sparse,denseTop:F_nt_dense_top,jit:[4,9],
  brackets:[{a:0,b:1,v:0.289,label:'**'},{a:0,b:2,v:0.322,label:'****'},{a:1,b:2,v:0.356,label:''}],
  ytx:1222,yty:775,xtitle:'MPO Binding',xtx:1374,xty:1005,plabel:'F',px:1195,py:610});
boxPanel({name:'panel-j-shm-mutpr3',y0:1397,per:836,axL:1244.4,axT:1085,axR:1426,xs:[1280,1341,1403.5],hw:23.2,
  stats:[J_stats_yes,J_stats_no,J_stats_nt],ptsYes:J_pts_yes,ptsNo:J_pts_no,ptsNt:J_pts_nt_sparse,denseTop:J_nt_dense_top,jit:[3,8],
  brackets:[{a:0,b:1,v:0.289,label:'ns'},{a:0,b:2,v:0.323,label:'***'},{a:1,b:2,v:0.356,label:'****'}],
  ytx:1222,yty:1265,xtitle:'mut_PR3 Binding',xtx:1362,xty:1474,plabel:'J',px:1195,py:1115});
</script>
</body></html>
